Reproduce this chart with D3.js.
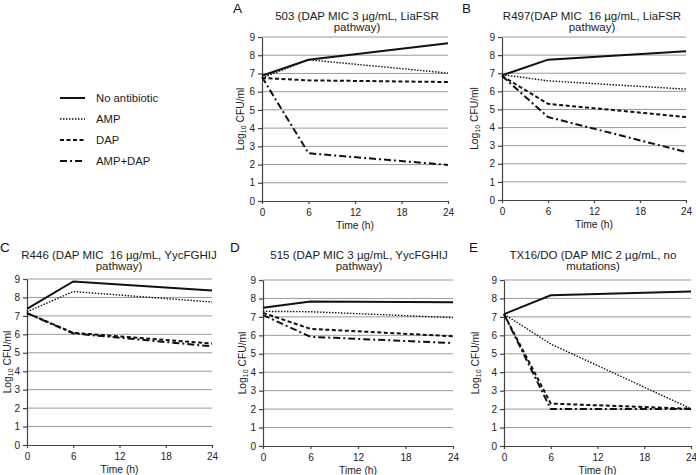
<!DOCTYPE html>
<html>
<head>
<meta charset="utf-8">
<script src="https://cdn.jsdelivr.net/npm/d3@7"></script>
<style>
  html, body { margin: 0; padding: 0; background: #fff; }
  svg { display: block; font-family: "Liberation Sans", Arial, sans-serif; }
  .ttl { white-space: pre; }
</style>
</head>
<body>
<svg id="chart" width="696" height="475"></svg>
<script>
// ---------- DATA ----------
const times = [0, 6, 24];
const xTicks = [0, 6, 12, 18, 24];
const yTicks = [0, 1, 2, 3, 4, 5, 6, 7, 8, 9];
const seriesNames = ["No antibiotic", "AMP", "DAP", "AMP+DAP"];
const panelLetters = ["A", "B", "C", "D", "E"];
const panelTitles = [
  ["503 (DAP MIC 3 µg/mL, LiaFSR", "pathway)"],
  ["R497(DAP MIC  16 µg/mL, LiaFSR", "pathway)"],
  ["R446 (DAP MIC  16 µg/mL, YycFGHIJ", "pathway)"],
  ["515 (DAP MIC 3 µg/mL, YycFGHIJ", "pathway)"],
  ["TX16/DO (DAP MIC 2 µg/mL, no", "mutations)"]
];
const noAntibiotic = [[6.87, 7.75, 8.66], [6.88, 7.75, 8.21], [7.38, 8.87, 8.37], [7.5, 7.83, 7.79], [7.15, 8.17, 8.37]];
const amp          = [[6.75, 7.75, 7.02], [6.92, 6.58, 6.12], [7.22, 8.32, 7.75], [7.3, 7.28, 6.96], [7.15, 5.53, 2.02]];
const dap          = [[6.75, 6.62, 6.53], [6.85, 5.31, 4.58], [7.15, 6.08, 5.5], [7.22, 6.35, 5.95], [7.15, 2.3, 2.02]];
const ampDap       = [[6.8, 2.62, 1.98], [6.85, 4.58, 2.65], [7.15, 6.05, 5.35], [7.1, 5.92, 5.58], [7.15, 2.0, 2.0]];
const xLabel = "Time (h)";

// ---------- STYLES / LAYOUT ----------
const seriesData = [noAntibiotic, amp, dap, ampDap];
const seriesStyle = [
  { w: 2, dash: null },
  { w: 1.4, dash: "1.5,1.5" },
  { w: 2, dash: "4,2.5" },
  { w: 2, dash: "7,3,2,3" }
];
const layout = [
  { x0: 262, x1: 448, yT: 37, yB: 201, tx: 357, lx: 233, yl: 240, t1: 19.5 },
  { x0: 502, x1: 686, yT: 37, yB: 200, tx: 592, lx: 462, yl: 474, t1: 19.5 },
  { x0: 27,  x1: 212, yT: 279, yB: 445, tx: 119, lx: 0,   yl: 7,   t1: 259 },
  { x0: 263, x1: 453, yT: 280, yB: 446, tx: 359, lx: 230, yl: 242, t1: 259 },
  { x0: 504, x1: 691, yT: 280, yB: 446, tx: 593, lx: 469, yl: 475, t1: 259 }
];

const svg = d3.select("#chart");
const axisColor = "#444";
const gridColor = "#9a9a9a";

panelLetters.forEach((letter, i) => {
  const L = layout[i];
  const g = svg.append("g");
  const x = d3.scaleLinear().domain([0, 24]).range([L.x0, L.x1]);
  const y = d3.scaleLinear().domain([0, 9]).range([L.yB, L.yT]);

  // gridlines
  g.selectAll("line.grid").data(yTicks.filter(d => d > 0)).enter()
    .append("line")
    .attr("x1", L.x0).attr("x2", L.x1)
    .attr("y1", d => y(d)).attr("y2", d => y(d))
    .attr("stroke", gridColor).attr("stroke-width", 1);

  // axes
  const ax = g.append("g").attr("transform", `translate(0,${L.yB})`)
    .call(d3.axisBottom(x).tickValues(xTicks).tickSize(3).tickSizeOuter(0).tickPadding(5));
  const ay = g.append("g").attr("transform", `translate(${L.x0},0)`)
    .call(d3.axisLeft(y).tickValues(yTicks).tickSize(4).tickSizeOuter(0).tickPadding(3));
  [ax, ay].forEach(a => {
    a.selectAll("path, line").attr("stroke", axisColor).attr("stroke-width", 1.2);
    a.selectAll("text").attr("fill", "#222").style("font-size", "10px")
      .style("font-family", "'Liberation Sans', Arial, sans-serif");
  });

  // series
  const line = d3.line().x((d, k) => x(times[k])).y(d => y(d));
  seriesData.forEach((s, si) => {
    g.append("path")
      .attr("d", line(s[i]))
      .attr("fill", "none")
      .attr("stroke", "#111")
      .attr("stroke-width", seriesStyle[si].w)
      .attr("stroke-dasharray", seriesStyle[si].dash);
  });

  // title
  panelTitles[i].forEach((t, k) => {
    g.append("text").attr("class", "ttl").attr("x", L.tx).attr("y", L.t1 + k * 11)
      .attr("text-anchor", "middle").style("font-size", "11.5px").attr("fill", "#222")
      .text(t);
  });
  // panel letter
  g.append("text").attr("x", L.lx).attr("y", L.t1 - 7)
    .style("font-size", "13.5px").attr("fill", "#111").text(letter);

  // x label
  g.append("text").attr("x", (L.x0 + L.x1) / 2).attr("y", L.yB + 28)
    .attr("text-anchor", "middle").style("font-size", "10.3px").attr("fill", "#222")
    .text(xLabel);

  // y label
  const yt = g.append("text")
    .attr("transform", `translate(${L.yl},${(L.yT + L.yB) / 2}) rotate(-90)`)
    .attr("text-anchor", "middle").attr("dy", "0.35em")
    .style("font-size", "10.3px").attr("fill", "#222");
  yt.append("tspan").text("Log");
  yt.append("tspan").attr("dy", "2.5").style("font-size", "7px").text("10");
  yt.append("tspan").attr("dy", "-2.5").text(" CFU/ml");
});

// legend
const legendY = [98, 119, 140, 161];
const leg = svg.append("g");
seriesNames.forEach((name, si) => {
  leg.append("line")
    .attr("x1", 60).attr("x2", 85).attr("y1", legendY[si]).attr("y2", legendY[si])
    .attr("stroke", "#111").attr("stroke-width", seriesStyle[si].w)
    .attr("stroke-dasharray", seriesStyle[si].dash);
  leg.append("text").attr("x", 96).attr("y", legendY[si]).attr("dy", "0.35em")
    .style("font-size", "11.3px").attr("fill", "#222").text(name);
});
</script>
</body>
</html>
